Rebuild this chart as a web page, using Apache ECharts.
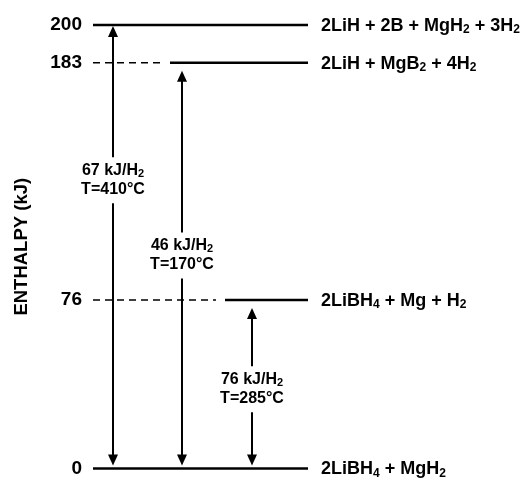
<!DOCTYPE html>
<html><head><meta charset="utf-8">
<script src="https://cdn.jsdelivr.net/npm/echarts@6/dist/echarts.min.js"></script>
<style>html,body{margin:0;padding:0;background:#fff}#c{width:525px;height:478px}</style>
</head><body><div id="c"></div>
<script>
// data
const levelValues = [0, 76, 183, 200];
const levelLabels = ['2LiBH{s|4} + MgH{s|2}', '2LiBH{s|4} + Mg + H{s|2}', '2LiH + MgB{s|2} + 4H{s|2}', '2LiH + 2B + MgH{s|2} + 3H{s|2}'];
const tickLabels = ['0', '76', '183', '200'];
const arrowFrom = [0, 0, 0];
const arrowTo = [200, 183, 76];
const arrowEnergy = ['67 kJ/H{s|2}', '46 kJ/H{s|2}', '76 kJ/H{s|2}'];
const arrowTemp = ['T=410°C', 'T=170°C', 'T=285°C'];
// layout (axis units on hidden x axis)
const levelSolidStart = [0, 132, 77, 0];
const arrowX = [20, 89, 159];
const labelFrac = [0.65, 0.525, 0.47];
const topGap = [1, 8, 8];

const FONT = '"Liberation Sans", Arial, sans-serif';
const richBig = {
  s: { fontSize: 12, fontWeight: 'bold', fontFamily: FONT, fill: '#000', padding: [8, 0, 0, 0] }
};
const richSmall = {
  s: { fontSize: 11, fontWeight: 'bold', fontFamily: FONT, fill: '#000', padding: [7, 0, 0, 0] }
};

const chart = echarts.init(document.getElementById('c'), null, { renderer: 'canvas' });

function renderLevel(params, api) {
  const i = params.dataIndex;
  const v = levelValues[i];
  const pStart = api.coord([0, v]);
  const pSolid = api.coord([levelSolidStart[i], v]);
  const pEnd = api.coord([215, v]);
  const children = [];
  if (levelSolidStart[i] > 0) {
    children.push({ type: 'line', shape: { x1: pStart[0], y1: pStart[1], x2: pSolid[0] - 9, y2: pSolid[1] },
      style: { stroke: '#000', lineWidth: 1.5, lineDash: [7, 5] } });
  }
  children.push({ type: 'line', shape: { x1: pSolid[0], y1: pSolid[1], x2: pEnd[0], y2: pEnd[1] },
    style: { stroke: '#000', lineWidth: 2.5 } });
  children.push({ type: 'text', style: { text: levelLabels[i], x: pEnd[0] + 13, y: pEnd[1] + 1,
    font: 'bold 18px ' + FONT, fill: '#000', verticalAlign: 'middle', align: 'left', rich: richBig } });
  return { type: 'group', children: children };
}

function renderArrow(params, api) {
  const i = params.dataIndex;
  const x = api.coord([arrowX[i], 0])[0];
  const yBot = api.coord([0, arrowFrom[i]])[1] - 3;
  const yTop = api.coord([0, arrowTo[i]])[1] + topGap[i];
  const yMid = api.coord([0, arrowFrom[i] + (arrowTo[i] - arrowFrom[i]) * labelFrac[i]])[1];
  const hw = 5, hl = 11, gap = 23;
  const children = [
    { type: 'line', shape: { x1: x, y1: yTop + hl - 1, x2: x, y2: yMid - gap }, style: { stroke: '#000', lineWidth: 2 } },
    { type: 'line', shape: { x1: x, y1: yMid + gap, x2: x, y2: yBot - hl + 1 }, style: { stroke: '#000', lineWidth: 2 } },
    { type: 'polygon', shape: { points: [[x, yTop], [x - hw, yTop + hl], [x + hw, yTop + hl]] }, style: { fill: '#000' } },
    { type: 'polygon', shape: { points: [[x, yBot], [x - hw, yBot - hl], [x + hw, yBot - hl]] }, style: { fill: '#000' } },
    { type: 'text', style: { text: arrowEnergy[i] + '\n' + arrowTemp[i], x: x, y: yMid, align: 'center', verticalAlign: 'middle',
      font: 'bold 16px ' + FONT, fill: '#000', lineHeight: 19, rich: richSmall } }
  ];
  return { type: 'group', children: children };
}

chart.setOption({
  animation: false,
  backgroundColor: '#fff',
  grid: { left: 93, right: 217, top: 25, bottom: 8 },
  xAxis: { type: 'value', min: 0, max: 215, show: false },
  yAxis: {
    type: 'value', min: 0, max: 200,
    name: 'ENTHALPY (kJ)', nameLocation: 'middle', nameRotate: 90, nameGap: 62,
    nameTextStyle: { fontFamily: FONT, fontWeight: 'bold', fontSize: 18.5, color: '#000' },
    axisLine: { show: false }, axisTick: { show: false }, splitLine: { show: false },
    axisLabel: {
      customValues: levelValues, margin: 11, color: '#000', fontFamily: FONT, fontWeight: 'bold', fontSize: 19,
      formatter: function (v) { return tickLabels[levelValues.indexOf(v)]; }
    }
  },
  series: [
    { type: 'custom', renderItem: renderLevel, data: levelValues.map((v, i) => [i, v]), clip: false, silent: true },
    { type: 'custom', renderItem: renderArrow, data: arrowTo.map((v, i) => [i, v]), clip: false, silent: true }
  ]
});
</script>
</body></html>
